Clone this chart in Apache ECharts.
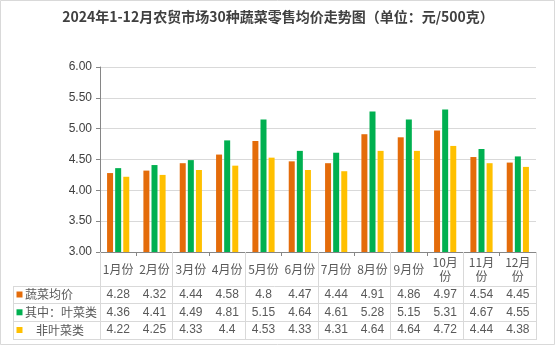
<!DOCTYPE html>
<html><head><meta charset="utf-8">
<script src="https://cdn.jsdelivr.net/npm/echarts@6/dist/echarts.min.js"></script>
<style>html,body{margin:0;padding:0;background:#fff}#c{width:556px;height:346px}</style>
</head><body><div id="c"></div>
<script>
const titleText = '2024年1-12月农贸市场30种蔬菜零售均价走势图（单位：元/500克）';
const categories = ['1月份','2月份','3月份','4月份','5月份','6月份','7月份','8月份','9月份','10月份','11月份','12月份'];
const seriesNames = ['蔬菜均价','其中：叶菜类','非叶菜类'];
const avgAll = [4.28,4.32,4.44,4.58,4.8,4.47,4.44,4.91,4.86,4.97,4.54,4.45];
const leafy = [4.36,4.41,4.49,4.81,5.15,4.64,4.61,5.28,5.15,5.31,4.67,4.55];
const nonLeafy = [4.22,4.25,4.33,4.4,4.53,4.33,4.31,4.64,4.64,4.72,4.44,4.38];
const yMin = 3, yMax = 6, yStep = 0.5;

const colors = ['#E46C0A','#00B050','#FFC000'];
const values = [avgAll, leafy, nonLeafy];
const font = 'Liberation Sans, Noto Sans CJK SC, sans-serif';
const textColor = '#595959';
const lineColor = '#D9D9D9';
const axisColor = '#868686';

const chart = echarts.init(document.getElementById('c'), null, {renderer:'canvas'});
const rowOffsets = [42.5, 60.3, 78];
const valueAxes = values.map((arr, i) => ({
  type:'category', gridIndex:0, position:'bottom', offset: rowOffsets[i],
  data: arr.map(v => String(v)),
  axisLine:{show:false}, axisTick:{show:false}, splitLine:{show:false},
  axisLabel:{margin:0, verticalAlign:'middle', fontSize:12, color:textColor, fontFamily:font, interval:0}
}));

const rowLabelX = [25, 25, 36];
const rowY = [294.5, 312.3, 330];
const graphics = [
  {type:'rect', shape:{x:0.5,y:0.5,width:554,height:344}, style:{fill:'none', stroke:lineColor, lineWidth:1}, silent:true},
  {type:'text', x:278, y:17, style:{text:titleText, font:'bold 14px "Noto Sans CJK SC", sans-serif', fill:'#404040', align:'center', verticalAlign:'middle'}}
];
[286.5, 303.5, 321.5, 339.5].forEach(y => graphics.push({type:'line', shape:{x1:13, y1:y, x2:536, y2:y}, style:{stroke:lineColor, lineWidth:1}, silent:true}));
graphics.push({type:'line', shape:{x1:13.5, y1:286, x2:13.5, y2:340}, style:{stroke:lineColor, lineWidth:1}, silent:true});
seriesNames.forEach((n, i) => {
  graphics.push({type:'rect', shape:{x:16.5, y:rowY[i]-3, width:6, height:6}, style:{fill:colors[i]}, silent:true});
  graphics.push({type:'text', x:rowLabelX[i], y:rowY[i], style:{text:n, font:'12px "Noto Sans CJK SC", sans-serif', fill:textColor, align:'left', verticalAlign:'middle'}, silent:true});
});

chart.setOption({
  animation:false,
  backgroundColor:'#fff',
  color: colors,
  grid:{left:100, right:20, top:67, bottom:94, containLabel:false},
  graphic: graphics,
  xAxis:[
    {type:'category', gridIndex:0, position:'bottom', data:categories,
     axisLine:{show:true, lineStyle:{color:axisColor}},
     axisTick:{show:true, length:4, lineStyle:{color:axisColor}},
     axisLabel:{margin:17, verticalAlign:'middle', fontSize:12, color:textColor, fontFamily:'"Noto Sans CJK SC", sans-serif', width:34, overflow:'break', lineHeight:14, interval:0, align:'center'}},
    ...valueAxes,
    {type:'category', gridIndex:0, position:'bottom', offset:0, data:categories,
     axisLine:{show:false}, axisLabel:{show:false},
     axisTick:{show:true, length:88, lineStyle:{color:lineColor}}}
  ],
  yAxis:{type:'value', min:yMin, max:yMax, interval:yStep,
    axisLine:{show:true, lineStyle:{color:axisColor}},
    axisTick:{show:true, length:4, lineStyle:{color:axisColor}},
    splitLine:{lineStyle:{color:lineColor}},
    axisLabel:{margin:8, fontSize:12, color:'#404040', fontFamily:font, formatter: v => v.toFixed(2)}},
  series: seriesNames.map((n, i) => ({
    name:n, type:'bar', xAxisIndex:0, data: values[i], barWidth:6, barGap:'35%',
    itemStyle:{color:colors[i]}
  }))
});
</script></body></html>
